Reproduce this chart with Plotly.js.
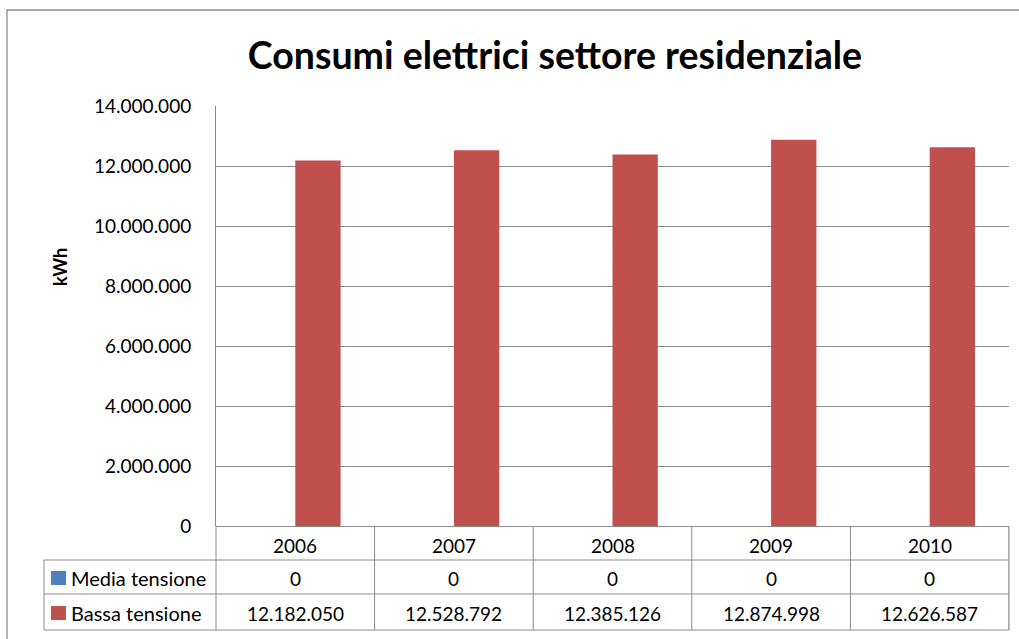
<!DOCTYPE html>
<html>
<head>
<meta charset="utf-8">
<script src="https://cdn.plot.ly/plotly-3.0.1.min.js"></script>
<style>html,body{margin:0;padding:0;background:#fff;}#chart{width:1019px;height:639px;}</style>
</head>
<body>
<div id="chart"></div>
<script>
// ---- data ----
const years = ["2006", "2007", "2008", "2009", "2010"];
const mediaTensione = [0, 0, 0, 0, 0];
const bassaTensione = [12182050, 12528792, 12385126, 12874998, 12626587];
const seriesNames = ["Media tensione", "Bassa tensione"];
const seriesColors = ["#4f81bd", "#c0504d"];
const yTicks = [0, 2000000, 4000000, 6000000, 8000000, 10000000, 12000000, 14000000];
const yTitle = "kWh";
const chartTitle = "Consumi elettrici settore residenziale";

function fmt(v) {
  return String(Math.round(v)).replace(/\B(?=(\d{3})+(?!\d))/g, ".");
}

const FONT = "Lato, 'Open Sans', sans-serif";
const gray = "#8c8c8c";
const W = 1019, H = 639;
const L = 216, R = 1009, T = 106, B = 526;
const pw = R - L, ph = B - T;
const px = x => (x - L) / pw;
const py = y => (B - y) / ph;

const traces = [
  {type: "bar", x: years, y: mediaTensione, name: seriesNames[0], marker: {color: seriesColors[0]}, hoverinfo: "x+y"},
  {type: "bar", x: years, y: bassaTensione, name: seriesNames[1], marker: {color: seriesColors[1]}, hoverinfo: "x+y"}
];

const shapes = [];
const annotations = [];
const line = (x0, y0, x1, y1, xref) => shapes.push({type: "line", xref: xref || "paper", yref: "paper", x0: x0, y0: y0, x1: x1, y1: y1, line: {color: gray, width: 1}});

// outer chart border
shapes.push({type: "rect", xref: "paper", yref: "paper", x0: px(7), x1: px(1040), y0: py(10), y1: py(660), line: {color: gray, width: 1.3}});

// table horizontal lines
line(px(L), py(560), px(R), py(560));
line(px(44), py(560), px(L), py(560));
line(px(44), py(594), px(R), py(594));
line(px(44), py(630), px(R), py(630));
// table vertical lines
line(px(44), py(560), px(44), py(630));
line(px(L), py(526), px(L), py(630));
for (let i = 0; i < years.length; i++) {
  line(i + 0.5, py(526), i + 0.5, py(630), "x");
}
line(px(R), py(526), px(R), py(630));

// y axis title
annotations.push({xref: "paper", yref: "paper", x: px(60), y: py(267), xanchor: "center", yanchor: "middle", textangle: -90, text: "<b>" + yTitle + "</b>", showarrow: false, font: {family: FONT, size: 18, color: "#000"}});

// legend keys
const rowY = [578, 613];
seriesColors.forEach((c, k) => {
  shapes.push({type: "rect", xref: "paper", yref: "paper", x0: px(51), x1: px(66), y0: py(rowY[k] - 7), y1: py(rowY[k] + 7), fillcolor: c, line: {width: 0}});
  annotations.push({xref: "paper", yref: "paper", x: px(69), y: py(rowY[k]), xanchor: "left", yanchor: "middle", text: seriesNames[k], showarrow: false, font: {family: FONT, size: 20, color: "#000"}});
});

// table header (years) and values
const series = [mediaTensione, bassaTensione];
years.forEach((yr, i) => {
  annotations.push({xref: "x", yref: "paper", x: i, y: py(545), xanchor: "center", yanchor: "middle", text: yr, showarrow: false, font: {family: FONT, size: 19, color: "#000"}});
  series.forEach((s, k) => {
    annotations.push({xref: "x", yref: "paper", x: i, y: py(rowY[k]), xanchor: "center", yanchor: "middle", text: fmt(s[i]), showarrow: false, font: {family: FONT, size: 19, color: "#000"}});
  });
});

const layout = {
  width: W, height: H,
  margin: {l: L, r: W - R, t: T, b: H - B, pad: 0},
  paper_bgcolor: "#fff", plot_bgcolor: "#fff",
  separators: ",.",
  showlegend: false,
  barmode: "group",
  bargap: 1.5 / 3.5,
  bargroupgap: 0,
  title: {text: "<b>" + chartTitle + "</b>", x: 555 / W, xref: "container", xanchor: "center", y: 1 - 56 / H, yanchor: "middle", font: {family: FONT, size: 37.5, color: "#000"}},
  font: {family: FONT, size: 19, color: "#000"},
  xaxis: {type: "category", showticklabels: false, ticks: "", showgrid: false, showline: false, zeroline: false, range: [-0.5, 4.5], fixedrange: true},
  yaxis: {
    range: [0, 14000000], tickvals: yTicks, ticktext: yTicks.map(fmt),
    showgrid: true, gridcolor: gray, gridwidth: 1,
    showline: true, linecolor: gray, linewidth: 1,
    zeroline: true, zerolinecolor: gray, zerolinewidth: 1,
    ticks: "", ticklabelstandoff: 20,
    tickfont: {family: FONT, size: 19, color: "#000"},
    fixedrange: true
  },
  shapes: shapes,
  annotations: annotations
};

Plotly.newPlot("chart", traces, layout, {displayModeBar: false, staticPlot: true});
</script>
</body>
</html>
